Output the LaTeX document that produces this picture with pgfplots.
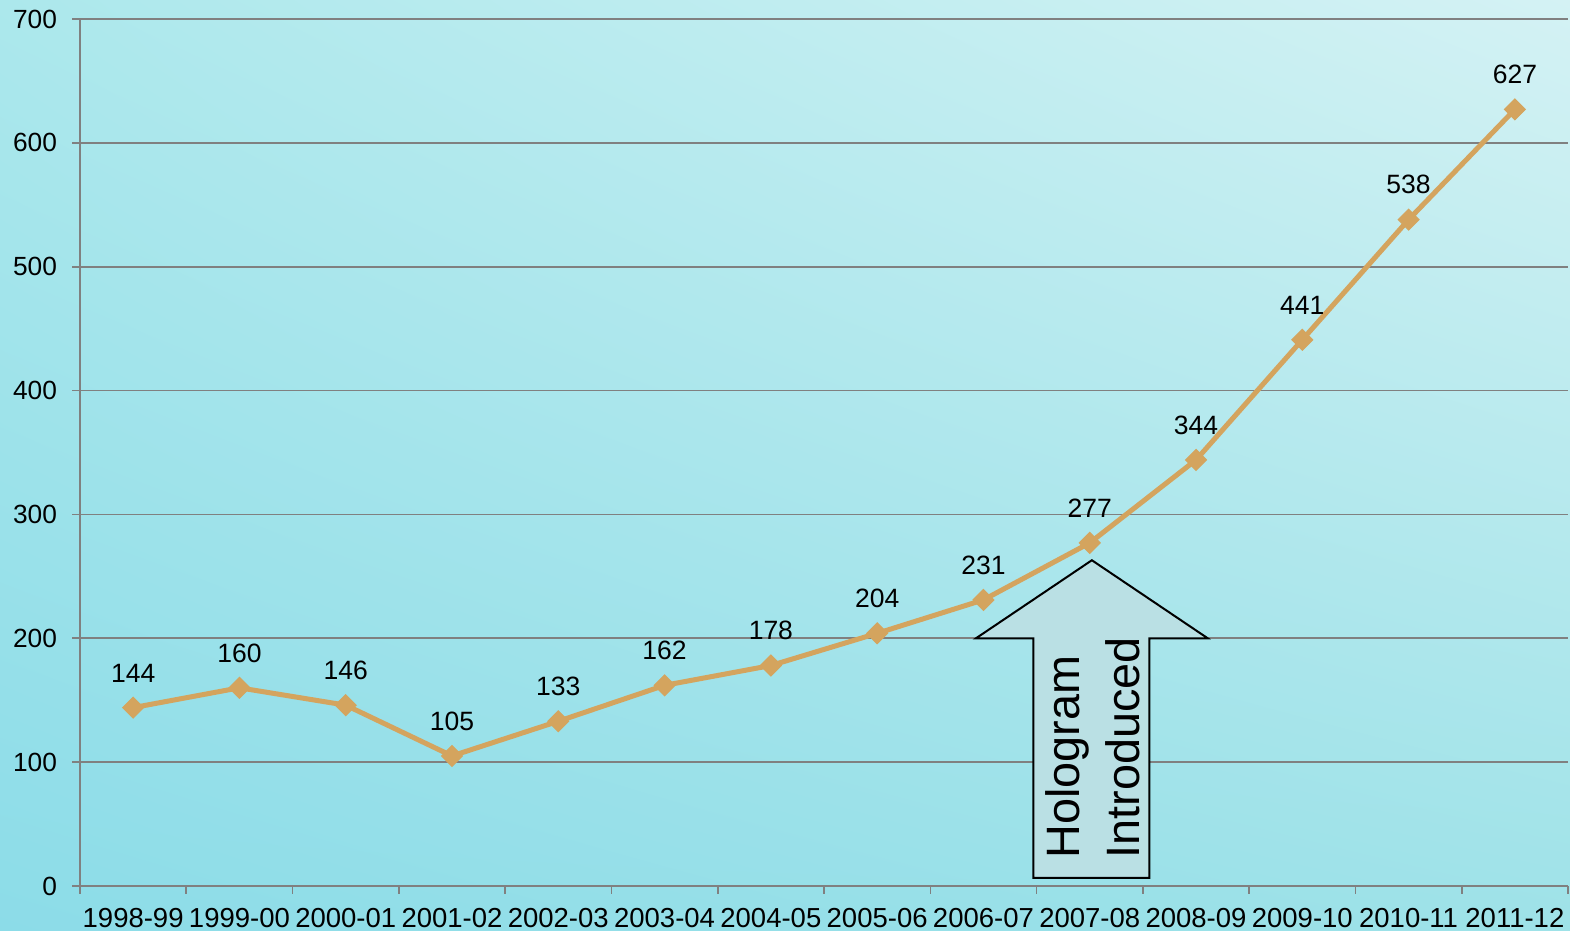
\documentclass[border=0pt]{standalone}
\usepackage{fontspec}
\setmainfont{Liberation Sans}
\usepackage{pgfplots}
\pgfplotsset{compat=1.18}
\usetikzlibrary{shadings}
\definecolor{linecol}{RGB}{212,164,94}
\definecolor{arrowfill}{RGB}{186,224,228}
\definecolor{bgUL}{RGB}{172,232,236}
\definecolor{bgUR}{RGB}{212,242,244}
\definecolor{bgLL}{RGB}{140,220,232}
\definecolor{bgLR}{RGB}{158,226,232}
\definecolor{gridcol}{RGB}{128,128,128}
\begin{document}
\begin{tikzpicture}[x=1bp,y=1bp]
\shade[upper left=bgUL, upper right=bgUR, lower left=bgLL, lower right=bgLR] (0,0) rectangle (785,465.5);
\begin{axis}[
  at={(40bp,22.5bp)}, anchor=south west,
  scale only axis, width=744bp, height=433.5bp,
  xmin=-0.5, xmax=13.5, ymin=0, ymax=700,
  axis x line=bottom, axis y line=left,
  axis line style={draw=gridcol, line width=0.8bp, -},
  xtick={-0.5,0.5,1.5,2.5,3.5,4.5,5.5,6.5,7.5,8.5,9.5,10.5,11.5,12.5,13.5},
  x tick label as interval,
  xticklabels={1998-99,1999-00,2000-01,2001-02,2002-03,2003-04,2004-05,2005-06,2006-07,2007-08,2008-09,2009-10,2010-11,2011-12},
  ytick={0,100,...,700},
  tick align=outside, major tick length=4bp,
  tick style={draw=gridcol, line width=0.8bp},
  ymajorgrids, grid style={draw=gridcol, line width=0.8bp},
  /pgf/number format/assume math mode=true,
  yticklabel style={font=\fontsize{13.2}{15}\selectfont, xshift=-4bp},
  xticklabel style={font=\fontsize{13.8}{15}\selectfont, yshift=-3.5bp},
  clip=false,
  nodes near coords,
  nodes near coords style={font=\fontsize{13.3}{15}\selectfont, anchor=south, inner sep=0pt, yshift=12.5bp, black},
]
\addplot[color=linecol, line width=2.5bp, mark=square*, mark size=3.7bp, mark options={rotate=45, fill=linecol, draw=linecol, line width=0.5bp}]
coordinates {(0,144) (1,160) (2,146) (3,105) (4,133) (5,162) (6,178) (7,204) (8,231) (9,277) (10,344) (11,441) (12,538) (13,627)};
\draw[black, line width=1bp, fill=arrowfill]
  (axis cs:9.02,263) -- (axis cs:10.11,200) -- (axis cs:9.56,200) -- (axis cs:9.56,6.5)
  -- (axis cs:8.47,6.5) -- (axis cs:8.47,200) -- (axis cs:7.93,200) -- cycle;
\node[rotate=90, anchor=west, inner sep=0pt, align=left, font=\fontsize{23.5}{30}\selectfont]
  at (axis cs:9.03,21.8) {Hologram\\Introduced};
\end{axis}
\pgfresetboundingbox
\useasboundingbox (0,0) rectangle (785,465.5);
\end{tikzpicture}
\end{document}
